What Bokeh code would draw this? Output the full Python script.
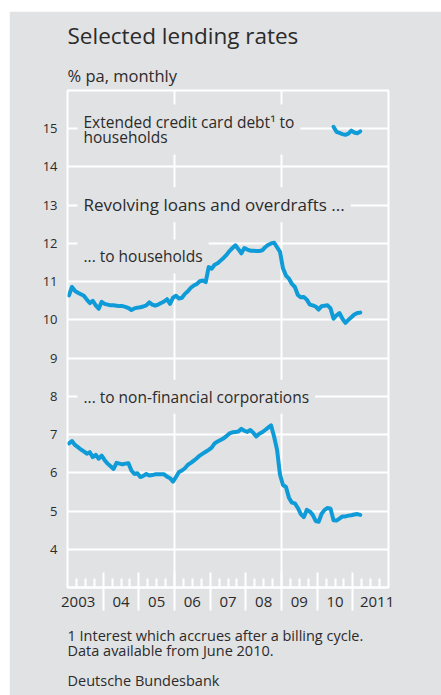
from bokeh.plotting import figure
from bokeh.models import Range1d, FixedTicker, Label, ColumnDataSource, Title, LinearAxis
from bokeh.embed import file_html
from bokeh.resources import INLINE

# ---------------- data (monthly, Jan 2003 - Mar 2011) ----------------
first_year = 2003
households = [
    10.64, 10.86, 10.76, 10.71, 10.67, 10.63, 10.53, 10.44, 10.50, 10.38,
    10.29, 10.47, 10.42, 10.40, 10.38, 10.38, 10.37, 10.36, 10.36, 10.34,
    10.31, 10.26, 10.30, 10.32, 10.33, 10.35, 10.38, 10.46, 10.40, 10.37,
    10.40, 10.44, 10.48, 10.54, 10.42, 10.58, 10.63, 10.56, 10.58, 10.68,
    10.75, 10.84, 10.90, 10.94, 11.01, 11.03, 10.99, 11.38, 11.34, 11.44,
    11.48, 11.55, 11.62, 11.70, 11.80, 11.88, 11.95, 11.85, 11.74, 11.88,
    11.84, 11.81, 11.81, 11.80, 11.80, 11.82, 11.90, 11.96, 12.00, 12.02,
    11.90, 11.78, 11.35, 11.16, 11.08, 10.94, 10.86, 10.65, 10.59, 10.60,
    10.53, 10.40, 10.38, 10.35, 10.27, 10.36, 10.37, 10.38, 10.30, 10.03,
    10.12, 10.18, 10.03, 9.92, 10.00, 10.07, 10.14, 10.18, 10.19,
]
corporations = [
    6.77, 6.83, 6.73, 6.67, 6.61, 6.56, 6.50, 6.54, 6.41, 6.47,
    6.37, 6.45, 6.33, 6.24, 6.17, 6.10, 6.26, 6.24, 6.22, 6.24,
    6.25, 6.06, 5.97, 5.99, 5.89, 5.92, 5.97, 5.93, 5.94, 5.96,
    5.96, 5.96, 5.96, 5.90, 5.86, 5.77, 5.89, 6.02, 6.06, 6.12,
    6.21, 6.26, 6.32, 6.38, 6.45, 6.50, 6.55, 6.60, 6.66, 6.77,
    6.82, 6.86, 6.90, 6.96, 7.03, 7.06, 7.07, 7.08, 7.15, 7.10,
    7.07, 7.12, 7.05, 6.95, 7.02, 7.06, 7.12, 7.18, 7.24, 6.95,
    6.60, 5.95, 5.68, 5.63, 5.35, 5.22, 5.20, 5.08, 4.92, 4.84,
    5.03, 4.99, 4.90, 4.74, 4.72, 4.93, 5.03, 5.08, 5.06, 4.76,
    4.75, 4.80, 4.86, 4.86, 4.88, 4.89, 4.91, 4.92, 4.90,
]
# extended credit card debt, Jun 2010 - Mar 2011
card_first_index = 89
credit_card = [15.05, 14.92, 14.89, 14.86, 14.84, 14.87, 14.95, 14.90, 14.88, 14.93]

year_labels = ["2003", "04", "05", "06", "07", "08", "09", "10", "2011"]
y_ticks = list(range(4, 16))

# ---------------- styling / layout ----------------
BG = "#e1e2e4"
BLUE = "#0f9bd7"
TXT = "#2b2b2b"
FONT = "Open Sans"
X0, X1, Y0, Y1 = 2003, 2012, 3, 16
# where each year label sits (first and last pushed outwards as in the original)
label_pos = [2003.30, 2004.5, 2005.5, 2006.5, 2007.5, 2008.5, 2009.5, 2010.5, 2011.68]


def month_x(k):
    return first_year + (k + 0.5) / 12.0


hh_src = ColumnDataSource(dict(x=[month_x(k) for k in range(len(households))], y=households))
nfc_src = ColumnDataSource(dict(x=[month_x(k) for k in range(len(corporations))], y=corporations))
cc_src = ColumnDataSource(dict(x=[month_x(card_first_index + k) for k in range(len(credit_card))], y=credit_card))

p = figure(width=432, height=684, output_backend="svg", toolbar_location=None,
           x_range=Range1d(X0, X1), y_range=Range1d(Y0, Y1),
           min_border_left=58, min_border_right=53, min_border_top=79, min_border_bottom=108,
           margin=(11, 0, 0, 9))
p.title.visible = False
p.background_fill_color = BG
p.border_fill_color = BG
p.outline_line_color = "white"
p.outline_line_width = 2

# grids
p.ygrid.ticker = FixedTicker(ticks=y_ticks)
p.xgrid.ticker = FixedTicker(ticks=[2006, 2009])
for g in (p.xgrid, p.ygrid):
    g.grid_line_color = "white"
    g.grid_line_width = 2

years = list(range(X0, X1))
quarters = [y + q for y in years for q in (0.25, 0.5, 0.75)]

# x axis 1 (next to the frame): long year ticks crossing the axis, short quarter ticks
xt = p.xaxis[0]
xt.ticker = FixedTicker(ticks=years[1:], minor_ticks=quarters)
xt.major_label_overrides = {y: "" for y in years[1:]}
xt.major_label_text_font_size = "0px"
xt.major_label_standoff = 0
xt.axis_line_color = "white"
xt.axis_line_width = 2
xt.major_tick_line_color = "white"
xt.major_tick_line_width = 2
xt.major_tick_in = 15
xt.major_tick_out = 23
xt.minor_tick_line_color = "white"
xt.minor_tick_line_width = 2
xt.minor_tick_in = 9
xt.minor_tick_out = 0

# x axis 2: the year labels, pulled up between the long ticks
xl = LinearAxis(ticker=FixedTicker(ticks=label_pos),
                major_label_overrides={pos: lab for pos, lab in zip(label_pos, year_labels)},
                axis_line_color=None, major_tick_line_color=None, minor_tick_line_color=None,
                major_tick_in=0, major_tick_out=0, minor_tick_in=0, minor_tick_out=0,
                major_label_standoff=-14, major_label_text_font=FONT,
                major_label_text_font_size="15px", major_label_text_color=TXT)
p.add_layout(xl, "below")

# y axis
p.yaxis.ticker = FixedTicker(ticks=y_ticks)
p.yaxis.axis_line_color = None
p.yaxis.major_tick_line_color = None
p.yaxis.minor_tick_line_color = None
p.yaxis.major_tick_out = 0
p.yaxis.major_tick_in = 0
p.yaxis.major_label_standoff = 10
p.yaxis.major_label_text_font = FONT
p.yaxis.major_label_text_font_size = "13px"
p.yaxis.major_label_text_color = TXT


# series labels (grey boxes hide the grid, lines drawn on top)
def series_label(text, x, y, size="15.5px"):
    p.add_layout(Label(x=x, y=y, text=text, text_font=FONT, text_font_size=size,
                       text_color=TXT, text_baseline="middle", text_line_height=0.72,
                       background_fill_color=BG, padding=6, level="underlay"))


LX = 2003.28
series_label("Extended credit card debt\u00b9 to\nhouseholds", LX, 14.98)
series_label("Revolving loans and overdrafts ...", LX, 13.01, "17px")
series_label("... to households", LX, 11.66)
series_label("... to non-financial corporations", LX, 7.99)

for src in (hh_src, nfc_src, cc_src):
    p.line("x", "y", source=src, line_color=BLUE, line_width=4, line_join="round", line_cap="round")

# titles (above) and notes (below)
p.add_layout(Title(text="% pa, monthly", text_font=FONT, text_font_size="16.5px",
                   text_font_style="normal", text_color=TXT, align="left",
                   vertical_align="bottom", standoff=8), "above")
p.add_layout(Title(text="Selected lending rates", text_font=FONT, text_font_size="22.5px",
                   text_font_style="normal", text_color=TXT, align="left",
                   vertical_align="top", standoff=10), "above")

notes = ("\n1 Interest which accrues after a billing cycle.\n"
         "Data available from June 2010.\n\nDeutsche Bundesbank")
p.add_layout(Title(text=notes, text_font=FONT, text_font_size="14.5px", text_font_style="normal",
                   text_color=TXT, align="left", vertical_align="top", standoff=0,
                   text_line_height=0.80), "below")

open("out.html", "w").write(file_html(p, INLINE))
